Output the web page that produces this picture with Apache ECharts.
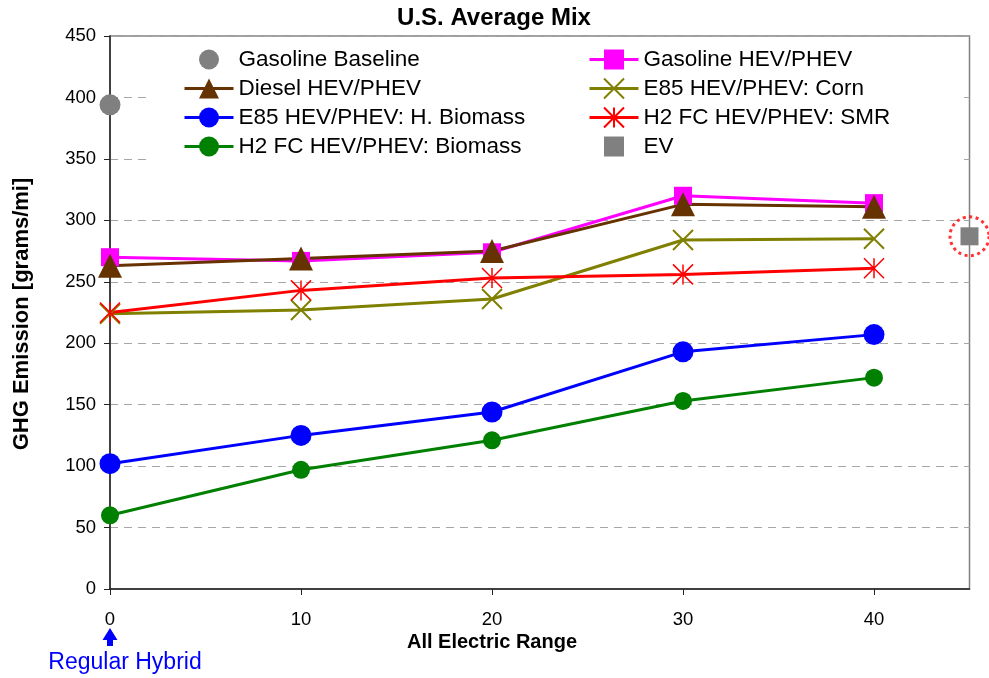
<!DOCTYPE html>
<html><head><meta charset="utf-8">
<script src="https://cdn.jsdelivr.net/npm/echarts@6/dist/echarts.min.js"></script>
<style>html,body{margin:0;padding:0;background:#fff}#c{width:989px;height:678px}</style>
</head><body><div id="c"></div>
<script>
// ---- data ----
const aer = [0, 10, 20, 30, 40];
const xTickValues = [0, 10, 20, 30, 40];
const baselineRange = [0];
const gasolineBaseline = [394];
const gasolineHEV = [270, 267, 274, 320, 314];
const dieselHEV = [263, 269, 275, 313, 311];
const e85Corn = [224, 227, 236, 284, 285];
const e85Biomass = [102, 125, 144, 193, 207];
const h2SMR = [225, 243, 253, 256, 261];
const h2Biomass = [60, 97, 121, 153, 172];
const evRange = [45];
const evValue = [287];

const names = ['Gasoline Baseline','Gasoline HEV/PHEV','Diesel HEV/PHEV','E85 HEV/PHEV: Corn',
  'E85 HEV/PHEV: H. Biomass','H2 FC HEV/PHEV: SMR','H2 FC HEV/PHEV: Biomass','EV'];

const pairs = (xs, ys) => ys.map((v, i) => [xs[i], v]);
const FONT = '"Liberation Sans", Arial, sans-serif';

function lineSeries(name, xs, ys, color, symbol, size, extra) {
  return Object.assign({
    name, type: 'line', data: pairs(xs, ys), symbol, symbolSize: size,
    clip: false, animation: false,
    lineStyle: { color, width: 3 },
    itemStyle: { color },
    emphasis: { disabled: true }
  }, extra || {});
}

const xPath = 'path://M0,0L20,20M20,0L0,20';
const starPath = 'path://M0,0L20,20M20,0L0,20M10,0L10,20';

const series = [
  lineSeries(names[0], baselineRange, gasolineBaseline, '#808080', 'circle', 21, { lineStyle: { width: 0, opacity: 0 } }),
  lineSeries(names[1], aer, gasolineHEV, '#FF00FF', 'rect', 18),
  lineSeries(names[2], aer, dieselHEV, '#663300', 'triangle', 24),
  lineSeries(names[3], aer, e85Corn, '#808000', xPath, 20, { itemStyle: { color: '#808000', borderColor: '#808000', borderWidth: 2 } }),
  lineSeries(names[4], aer, e85Biomass, '#0000FF', 'circle', 21),
  lineSeries(names[5], aer, h2SMR, '#FF0000', starPath, 20, { itemStyle: { color: '#FF0000', borderColor: '#FF0000', borderWidth: 1.5 } }),
  lineSeries(names[6], aer, h2Biomass, '#008000', 'circle', 18),
  lineSeries(names[7], evRange, evValue, '#808080', 'rect', 18, { lineStyle: { width: 0, opacity: 0 } }),
  {
    name: 'EV highlight', type: 'scatter', data: pairs(evRange, evValue), symbol: 'circle', symbolSize: 39,
    clip: false, silent: true, animation: false, z: 3,
    itemStyle: { color: 'rgba(0,0,0,0)', borderColor: '#FF0000', borderWidth: 3, borderType: [3, 3.5] }
  }
];

const legendCommon = {
  orient: 'vertical', top: 48, padding: 0, itemWidth: 49, itemHeight: 25, itemGap: 6,
  textStyle: { fontFamily: FONT, fontSize: 22.5, color: '#000' },
  lineStyle: { width: 3 },
  selectedMode: false
};

const chart = echarts.init(document.getElementById('c'), null, { renderer: 'canvas' });
chart.setOption({
  backgroundColor: '#fff',
  animation: false,
  grid: { left: 110, top: 36, right: 19.5, bottom: 89, show: true, borderColor: '#808080', borderWidth: 1.5, backgroundColor: 'transparent' },
  legend: [
    Object.assign({ left: 183, data: [names[0], names[2], names[4], names[6]] }, legendCommon),
    Object.assign({ left: 588, data: [names[1], names[3], names[5], names[7]] }, legendCommon)
  ],
  xAxis: {
    type: 'value', min: 0, max: 45, interval: 10,
    axisLine: { show: true, onZero: false, lineStyle: { color: '#222', width: 1.5 } },
    axisTick: { show: true, length: 6, customValues: xTickValues, lineStyle: { color: '#222' } },
    axisLabel: { customValues: xTickValues, margin: 21, fontFamily: FONT, fontSize: 18.5, color: '#000' },
    splitLine: { show: false }
  },
  yAxis: {
    type: 'value', min: 0, max: 450, interval: 50,
    axisLine: { show: true, lineStyle: { color: '#222', width: 1.5 } },
    axisTick: { show: true, length: 6, lineStyle: { color: '#222' } },
    axisLabel: { margin: 14, fontFamily: FONT, fontSize: 18.5, color: '#000' },
    splitLine: { show: true, lineStyle: { color: '#a6a6a6', width: 1.2, type: [8, 6] } }
  },
  graphic: [
    { type: 'rect', z: 1, silent: true, shape: { x: 150, y: 44, width: 808, height: 122 }, style: { fill: '#fff' } },
    { type: 'text', x: 494, y: 18, style: { text: 'U.S. Average Mix', font: 'bold 24px ' + FONT, fill: '#000', align: 'center', verticalAlign: 'middle' } },
    { type: 'text', x: 492, y: 642, style: { text: 'All Electric Range', font: 'bold 20px ' + FONT, fill: '#000', align: 'center', verticalAlign: 'middle' } },
    { type: 'text', x: 22, y: 314, rotation: Math.PI / 2, style: { text: 'GHG Emission [grams/mi]', font: 'bold 22px ' + FONT, fill: '#000', align: 'center', verticalAlign: 'middle' } },
    { type: 'text', x: 125, y: 663, style: { text: 'Regular Hybrid', font: '23px ' + FONT, fill: '#0000FF', align: 'center', verticalAlign: 'middle' } },
    { type: 'polygon', silent: true, shape: { points: [[110, 628], [102.5, 640], [107, 640], [107, 646], [113, 646], [113, 640], [117.5, 640]] }, style: { fill: '#0000FF' } }
  ],
  series
});
</script>
</body></html>
